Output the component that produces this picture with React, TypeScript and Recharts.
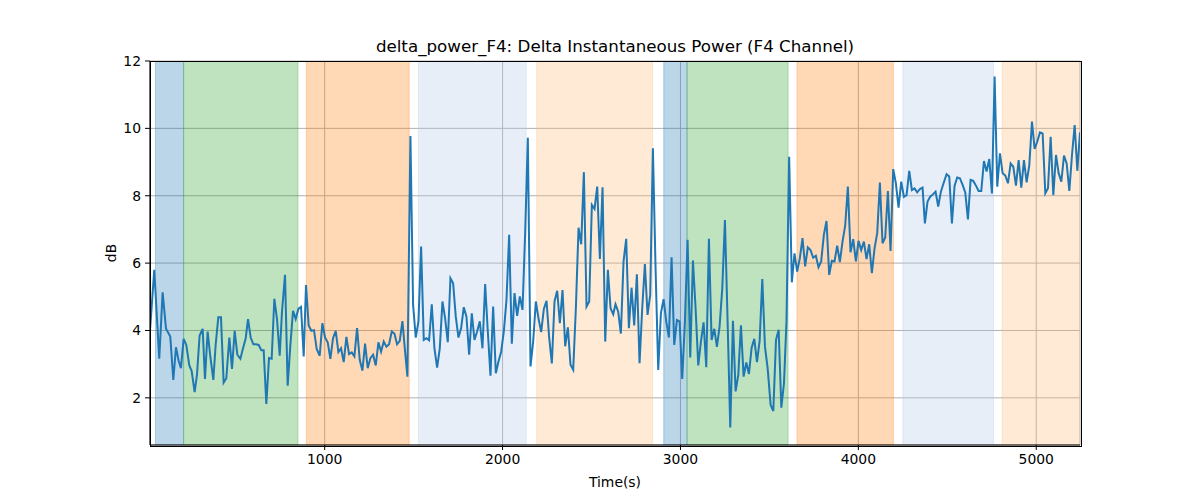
import React from 'react';
import {
  LineChart,
  Line,
  XAxis,
  YAxis,
  CartesianGrid,
  ReferenceArea,
} from 'recharts';

// sample times (s) and delta power (dB)
const timeSec = [
  18, 42, 70, 89, 108, 132, 149, 164, 179, 192,
  207, 222, 239, 252, 269, 282, 297, 314, 327, 342,
  357, 374, 387, 402, 417, 432, 447, 464, 479, 494,
  509, 526, 541, 556, 569, 584, 599, 614, 629, 644,
  657, 672, 687, 702, 717, 732, 747, 760, 777, 792,
  807, 822, 837, 852, 867, 882,
  895, 910, 925, 940, 955, 972, 987, 1002, 1017, 1032,
  1047, 1062, 1077, 1092, 1107, 1122, 1137, 1152, 1167, 1182,
  1197, 1212, 1227, 1242, 1257, 1272, 1287, 1302, 1317, 1332,
  1347, 1362, 1377, 1392, 1407, 1422, 1437, 1452, 1465, 1482,
  1497, 1512, 1527, 1542, 1557, 1572, 1587, 1602, 1617, 1632,
  1647, 1662, 1677, 1692, 1707, 1722, 1737, 1752,
  1767, 1782, 1797, 1812, 1827, 1842, 1857, 1872, 1887, 1902,
  1917, 1932, 1947, 1962, 1977, 1992, 2007, 2022, 2037, 2052,
  2067, 2082, 2097, 2112, 2127, 2142, 2157, 2172, 2187, 2202,
  2217, 2232, 2247, 2262, 2277, 2292, 2307, 2322, 2337, 2352,
  2367, 2382, 2397, 2412, 2427, 2442, 2457, 2472, 2487, 2502,
  2517, 2532, 2547, 2562, 2577, 2592, 2607, 2622,
  2635, 2650, 2665, 2680, 2695, 2710, 2725, 2740, 2755, 2770,
  2785, 2800, 2815, 2830, 2845, 2860, 2875, 2890, 2905, 2920,
  2935, 2950, 2965, 2980, 2995, 3010, 3025, 3040, 3055, 3070,
  3085, 3100, 3115, 3130, 3145, 3160, 3175, 3190, 3205, 3220,
  3235, 3250, 3265, 3280, 3295, 3310, 3325, 3340, 3355, 3370,
  3385, 3400, 3415, 3430, 3445, 3460, 3475, 3490,
  3507, 3522, 3537, 3552, 3567, 3582, 3596, 3611, 3626, 3641,
  3656, 3671, 3686, 3701, 3716, 3731, 3746, 3761, 3776, 3791,
  3806, 3821, 3836, 3851, 3866, 3881, 3896, 3911, 3926, 3941,
  3956, 3971, 3986, 4001, 4016, 4031, 4046, 4061, 4076, 4091,
  4106, 4121, 4136, 4151, 4166, 4181, 4196, 4211, 4226, 4241,
  4256, 4271, 4286, 4301, 4316, 4331, 4346, 4361, 4374,
  4389, 4404, 4419, 4434, 4449, 4464, 4479, 4496, 4511, 4526,
  4541, 4556, 4571, 4586, 4601, 4616, 4631, 4646, 4661, 4676,
  4691, 4706, 4721, 4736, 4751, 4766, 4781, 4796, 4811, 4826,
  4841, 4856, 4871, 4886, 4901, 4916, 4931, 4946, 4961, 4976,
  4991, 5006, 5021, 5036, 5051, 5066, 5081, 5096, 5111, 5126,
  5141, 5156, 5171, 5186, 5201, 5216, 5231, 5246,
];

const deltaDb = [
  4.0, 5.8, 3.16, 5.13, 4.05, 3.82, 2.53, 3.5, 3.1, 2.88,
  3.75, 3.57, 2.96, 2.8, 2.17, 2.68, 3.85, 4.05, 2.56, 3.97,
  3.23, 2.53, 3.57, 4.39, 4.39, 2.45, 2.58, 3.79, 2.86, 3.99,
  3.28, 3.16, 3.47, 3.77, 4.34, 3.79, 3.59, 3.59, 3.57, 3.41,
  3.41, 1.82, 3.18, 3.16, 4.94, 4.34, 3.25, 4.56, 5.65, 2.36,
  3.57, 4.58, 4.34, 4.64, 4.7, 3.23,
  5.35, 4.15, 3.99, 4.01, 3.45, 3.25, 4.22, 3.79, 3.65, 3.16,
  3.77, 3.99, 3.36, 3.47, 3.06, 3.81, 3.3, 3.35, 3.23, 4.07,
  3.13, 2.81, 3.61, 2.88, 3.18, 3.28, 2.96, 3.65, 3.37, 3.67,
  3.52, 3.59, 3.97, 3.91, 3.59, 3.69, 4.28, 3.37, 2.63, 9.77,
  4.76, 3.79, 4.26, 6.49, 3.72, 3.77, 3.71, 4.78, 3.47, 2.9,
  3.47, 4.86, 4.36, 3.65, 5.55, 5.4, 4.41, 3.79,
  4.07, 4.69, 4.41, 3.28, 4.51, 3.72, 3.97, 4.27, 3.47, 5.38,
  3.97, 2.66, 4.71, 2.73, 3.08, 3.37, 3.97, 4.91, 6.84, 3.61,
  5.11, 4.43, 5.01, 4.61, 6.9, 9.72, 2.93, 3.67, 4.86, 4.36,
  3.95, 4.64, 4.88, 3.79, 3.02, 4.86, 5.18, 4.22, 5.2, 3.53,
  4.09, 2.98, 2.83, 4.66, 7.05, 6.56, 8.7, 4.71, 4.86, 7.73,
  7.61, 8.27, 6.12, 8.25, 3.67, 5.8, 4.66, 4.48,
  4.78, 4.56, 3.91, 6.05, 6.72, 4.07, 5.27, 4.15, 5.67, 3.03,
  4.66, 5.97, 4.46, 5.06, 9.41, 5.85, 2.83, 4.51, 4.93, 4.27,
  3.79, 6.17, 3.57, 4.31, 4.27, 2.56, 4.27, 6.69, 3.2, 6.08,
  4.66, 2.96, 3.67, 4.24, 2.91, 6.72, 3.72, 4.05, 3.51, 4.12,
  5.25, 7.28, 4.27, 1.12, 4.29, 2.19, 2.68, 4.15, 2.63, 3.05,
  2.71, 3.49, 3.75, 3.06, 3.69, 5.53, 3.52, 2.88,
  1.79, 1.61, 3.72, 4.02, 1.71, 2.44, 4.27, 9.16, 5.43, 6.29,
  5.75, 6.14, 6.74, 5.9, 6.47, 6.39, 6.16, 6.22, 5.88, 6.05,
  6.84, 7.25, 5.65, 6.07, 6.05, 6.52, 6.03, 6.64, 7.11, 8.27,
  6.32, 6.71, 6.05, 6.66, 6.39, 6.64, 6.12, 6.56, 5.7, 6.44,
  6.89, 8.39, 6.59, 6.76, 8.14, 6.36, 8.79, 8.37, 7.65, 8.42,
  7.97, 8.02, 8.74, 8.17, 8.22, 8.1, 8.2, 8.24, 7.18,
  7.83, 7.97, 8.04, 8.12, 7.68, 8.12, 8.37, 8.64, 8.57, 7.18,
  8.3, 8.54, 8.52, 8.32, 8.1, 7.3, 8.47, 8.44, 8.3, 8.14,
  8.14, 9.03, 8.72, 9.09, 8.07, 11.54, 8.27, 9.26, 8.67, 8.6,
  8.37, 8.96, 8.86, 8.3, 9.06, 8.24, 9.06, 8.4, 8.91, 10.2,
  9.39, 9.61, 9.88, 9.85, 8.07, 8.22, 9.75, 8.02, 9.21, 8.67,
  8.42, 9.19, 8.96, 8.14, 9.21, 10.1, 8.74, 9.88,
];

// shaded phases (start, end in seconds) and their kind
const bandStart = [49, 207, 897, 1527, 2192, 2906, 3037, 3655, 4250, 4808];
const bandEnd = [207, 850, 1475, 2133, 2843, 3037, 3605, 4197, 4760, 5246];
const bandKind = ['blue', 'green', 'orange', 'lightblue', 'lightorange', 'blue', 'green', 'orange', 'lightblue', 'lightorange'];

const xTicks = [1000, 2000, 3000, 4000, 5000];
const yTicks = [2, 4, 6, 8, 10, 12];

const bandColors: Record<string, string> = {
  blue: '#1f77b4',
  green: '#2ca02c',
  orange: '#ff7f0e',
  lightblue: '#aec7e8',
  lightorange: '#ffbb78',
};

const FONT = '"DejaVu Sans", sans-serif';

export default function App() {
  const n = Math.min(timeSec.length, deltaDb.length);
  const data = timeSec.slice(0, n).map((t, i) => ({ t, v: deltaDb[i] }));
  const tickStyle = { fill: '#000', fontSize: 13.9, fontFamily: FONT };

  return (
    <div style={{ position: 'absolute', left: 0, top: 0, width: 1200, height: 500, background: '#fff', fontFamily: FONT }}>
      <div style={{ position: 'absolute', left: 150, width: 930, top: 36, textAlign: 'center', fontSize: 16.7, lineHeight: '20px', color: '#000' }}>
        delta_power_F4: Delta Instantaneous Power (F4 Channel)
      </div>
      <LineChart width={1200} height={500} data={data} margin={{ top: 61, right: 120, bottom: 0, left: 0 }}>
        <CartesianGrid stroke="#b0b0b0" strokeWidth={1} />
        {bandStart.map((s, i) => (
          <ReferenceArea
            key={i}
            x1={s}
            x2={bandEnd[i]}
            fill={bandColors[bandKind[i]]}
            fillOpacity={0.3}
            stroke={bandColors[bandKind[i]]}
            strokeOpacity={0.3}
            ifOverflow="hidden"
          />
        ))}
        <XAxis
          dataKey="t"
          type="number"
          domain={[18, 5246]}
          ticks={xTicks}
          allowDataOverflow
          height={55}
          tickSize={5}
          tickMargin={4}
          tick={tickStyle}
          tickLine={{ stroke: '#000' }}
          axisLine={{ stroke: '#000' }}
          label={{ value: 'Time(s)', position: 'insideBottom', offset: 13, fill: '#000', fontSize: 13.9, fontFamily: FONT }}
        />
        <YAxis
          type="number"
          domain={[0.6, 12]}
          ticks={yTicks}
          allowDataOverflow
          width={150}
          tickSize={5}
          tickMargin={4}
          tick={tickStyle}
          tickLine={{ stroke: '#000' }}
          axisLine={{ stroke: '#000' }}
          label={({ viewBox }: any) => (
            <text
              x={viewBox.x + 111}
              y={viewBox.y + viewBox.height / 2}
              transform={`rotate(-90, ${viewBox.x + 111}, ${viewBox.y + viewBox.height / 2})`}
              textAnchor="middle"
              dominantBaseline="central"
              fontSize={13.9}
              fontFamily={FONT}
              fill="#000"
            >
              dB
            </text>
          )}
        />
        <Line
          type="linear"
          dataKey="v"
          stroke="#1f77b4"
          strokeWidth={2}
          dot={false}
          isAnimationActive={false}
        />
      </LineChart>
      {/* axes frame, like matplotlib's four spines */}
      <div style={{ position: 'absolute', left: 150, top: 61, width: 930, height: 384, border: '1px solid #000', boxSizing: 'content-box', marginLeft: -0.5, marginTop: -0.5, pointerEvents: 'none' }} />
    </div>
  );
}
